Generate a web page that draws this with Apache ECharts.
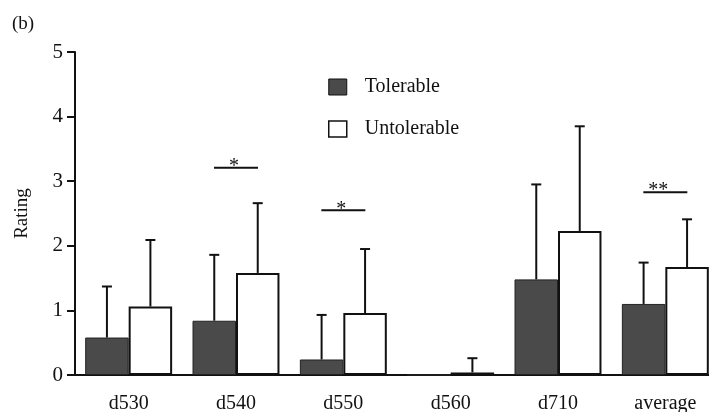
<!DOCTYPE html>
<html>
<head>
<meta charset="utf-8">
<script src="https://cdn.jsdelivr.net/npm/echarts@6/dist/echarts.min.js"></script>
<style>
  html, body { margin: 0; padding: 0; background: #fff; overflow: hidden; }
  /* the plot in the figure runs slightly past the right edge of the picture */
  #chart { width: 719px; height: 412px; }
</style>
</head>
<body>
<div id="chart"></div>
<script>
// data
let categories = ["d530", "d540", "d550", "d560", "d710", "average"];
let tolerable = [0.58, 0.84, 0.24, 0, 1.48, 1.10];
let tolerableErr = [0.79, 1.02, 0.69, 0, 1.47, 0.64];
let untolerable = [1.06, 1.58, 0.96, 0.04, 2.23, 1.67];
let untolerableErr = [1.03, 1.08, 0.99, 0.22, 1.62, 0.74];
// significance marks: category, height, label
let sigCats = ["d540", "d550", "average"];
let sigY = [3.21, 2.55, 2.83];
let sigText = ["*", "*", "**"];

let font = "Liberation Serif";
let catGap = 0.19;

function errBar(side, vals, errs) {
    let data = vals.map(function (v, i) { return [i, v, v + errs[i]]; });
    return {
        type: "custom",
        z: 5,
        silent: true,
        data: data,
        renderItem: function (params, api) {
            let i = api.value(0);
            if (api.value(2) - api.value(1) <= 0) return;
            let band = api.size([1, 0])[0];
            let bw = band * (1 - catGap) / 2;
            let p0 = api.coord([i, api.value(1)]);
            let p1 = api.coord([i, api.value(2)]);
            let x = p0[0] + side * bw / 2;
            return {
                type: "group",
                children: [
                    { type: "line", shape: { x1: x, y1: p0[1], x2: x, y2: p1[1] },
                      style: { stroke: "#111", lineWidth: 2 } },
                    { type: "line", shape: { x1: x - 5, y1: p1[1], x2: x + 5, y2: p1[1] },
                      style: { stroke: "#111", lineWidth: 2 } }
                ]
            };
        }
    };
}

let sigData = sigCats.map(function (c, i) { return [categories.indexOf(c), sigY[i]]; });

let myChart = echarts.init(document.getElementById("chart"));
let option = {
    animation: false,
    backgroundColor: "#fff",
    title: {
        text: "(b)", left: 12, top: 15, padding: 0,
        textStyle: { fontFamily: font, fontSize: 19, fontWeight: "normal", color: "#111" }
    },
    legend: {
        orient: "vertical",
        left: 328, top: 77, padding: 0,
        itemWidth: 18, itemHeight: 16, itemGap: 22,
        icon: "rect",
        textStyle: { fontFamily: font, fontSize: 20, lineHeight: 16, color: "#111", padding: [3, 0, 0, 13] },
        data: [
            { name: "Tolerable", itemStyle: { color: "#4a4a4a", borderColor: "#111", borderWidth: 1 } },
            { name: "Untolerable", itemStyle: { color: "#fff", borderColor: "#111", borderWidth: 1.5 } }
        ]
    },
    grid: { left: 75, right: 0, top: 52, bottom: 37, outerBoundsMode: "none", containLabel: false },
    xAxis: {
        type: "category",
        data: categories,
        axisLine: { lineStyle: { color: "#111", width: 2 } },
        axisTick: { alignWithLabel: true, length: 8, lineStyle: { color: "#111", width: 2 } },
        axisLabel: { fontFamily: font, fontSize: 20, color: "#111", margin: 19 }
    },
    yAxis: {
        type: "value",
        min: 0, max: 5, interval: 1,
        name: "Rating",
        nameLocation: "middle",
        nameGap: 43,
        nameTextStyle: { fontFamily: font, fontSize: 19, color: "#111" },
        axisLine: { show: true, lineStyle: { color: "#111", width: 2 } },
        axisTick: { show: true, length: 8, lineStyle: { color: "#111", width: 2 } },
        axisLabel: { fontFamily: font, fontSize: 21, color: "#111", margin: 12 },
        splitLine: { show: false }
    },
    series: [
        {
            name: "Tolerable", type: "bar", data: tolerable,
            barGap: "0%", barCategoryGap: (catGap * 100) + "%",
            itemStyle: { color: "#4a4a4a", borderColor: "#222", borderWidth: 1 }
        },
        {
            name: "Untolerable", type: "bar", data: untolerable,
            itemStyle: { color: "#fff", borderColor: "#111", borderWidth: 2 }
        },
        errBar(-1, tolerable, tolerableErr),
        errBar(1, untolerable, untolerableErr),
        {
            type: "custom",
            z: 5,
            silent: true,
            data: sigData,
            renderItem: function (params, api) {
                let p = api.coord([api.value(0), api.value(1)]);
                let t = sigText[params.dataIndex];
                let shift = t.length > 1 ? -7 : -2;
                return {
                    type: "group",
                    children: [
                        { type: "line", shape: { x1: p[0] - 22, y1: p[1], x2: p[0] + 22, y2: p[1] },
                          style: { stroke: "#111", lineWidth: 2 } },
                        { type: "text", x: p[0] + shift, y: p[1] + 9,
                          style: { text: t, fontFamily: font, fontSize: 20,
                                   fill: "#111", align: "center", verticalAlign: "bottom" } }
                    ]
                };
            }
        }
    ]
};
myChart.setOption(option);
</script>
</body>
</html>
